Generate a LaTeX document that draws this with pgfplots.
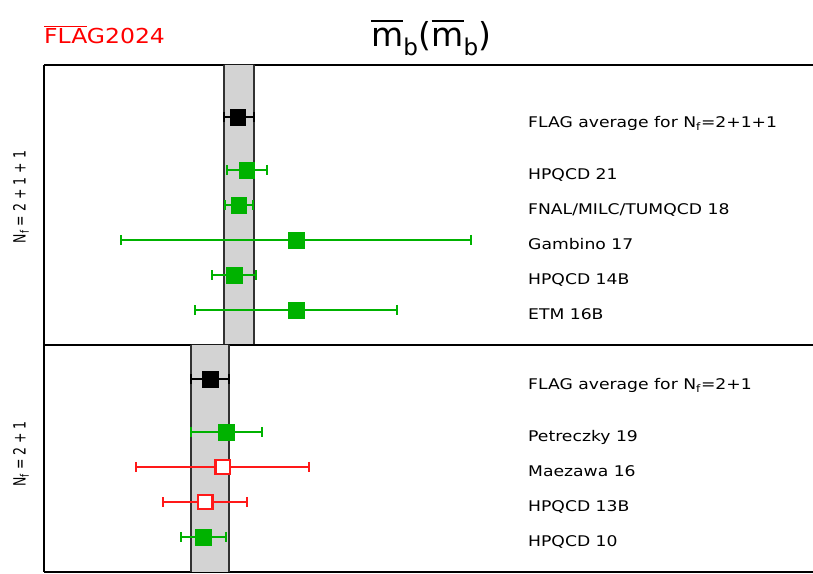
\documentclass[border=0pt]{standalone}
\usepackage{graphicx}
\usepackage{pgfplots}
\pgfplotsset{compat=1.18}
\usepackage{fontspec}
\setmainfont{DejaVu Sans}
\definecolor{fgreen}{RGB}{0,178,0}
\definecolor{fred}{RGB}{255,25,25}
\definecolor{bandfill}{RGB}{211,211,211}
\definecolor{bandedge}{RGB}{50,50,50}
\newcommand\lab[1]{\scalebox{1.17}[1]{\fontsize{14.7bp}{17bp}\selectfont #1}}
\newlength\ovw
\newcommand\ovl[3]{\settowidth\ovw{#1}\rlap{\raisebox{#2}{\rule{\ovw}{#3}}}#1}
\tikzset{lbl/.style={anchor=base west, inner sep=0pt}}
\pgfplotsset{
  panel/.style={scale only axis, width=769bp, xmin=4.0112, xmax=4.7726, ymin=0,
    axis x line=box, axis y line=left, axis line style={-, line width=1.5bp, black},
    xtick=\empty, ytick=\empty},
  res/.style={only marks, mark=square*, mark size=7.8bp, line width=2bp,
    error bars/x dir=both, error bars/x explicit,
    error bars/error mark=|,
    error bars/error bar style={line width=2bp},
    error bars/error mark options={line width=2bp, mark size=5bp}},
  band/.style={fill=bandfill, draw=none, forget plot},
  bedge/.style={bandedge, line width=2bp, forget plot},
}
\begin{document}
\begin{tikzpicture}[x=1bp,y=1bp]
\useasboundingbox (0,0) rectangle (813,574);
% ---------- upper panel Nf=2+1+1 ----------
\begin{axis}[panel, at={(44bp,229bp)}, anchor=south west, height=280bp, ymax=8]
\addplot[band] coordinates {(4.1897,0) (4.2195,0) (4.2195,8) (4.1897,8)} \closedcycle;
\addplot[bedge] coordinates {(4.1897,0) (4.1897,8)};
\addplot[bedge] coordinates {(4.2195,0) (4.2195,8)};
\addplot[res, color=black, mark options={fill=black, draw=black, line width=0.5bp}] coordinates {
  (4.2030,6.5) += (0.0165,0) -= (0.0133,0)};
\addplot[res, color=fgreen, mark options={fill=fgreen, draw=fgreen, line width=0.5bp}] coordinates {
  (4.2119,5) +- (0.0200,0)
  (4.2040,4) +- (0.0137,0)
  (4.2607,3) +- (0.1728,0)
  (4.1993,2) +- (0.0219,0)
  (4.2607,1) +- (0.0997,0)};
\node[lbl] at (axis cs:4.4904,6.2143) {\lab{FLAG average for N\textsubscript{f}=2+1+1}};
\node[lbl] at (axis cs:4.4904,4.7143) {\lab{HPQCD 21}};
\node[lbl] at (axis cs:4.4904,3.7143) {\lab{FNAL/MILC/TUMQCD 18}};
\node[lbl] at (axis cs:4.4904,2.7143) {\lab{Gambino 17}};
\node[lbl] at (axis cs:4.4904,1.7143) {\lab{HPQCD 14B}};
\node[lbl] at (axis cs:4.4904,0.7143) {\lab{ETM 16B}};
\end{axis}
% ---------- lower panel Nf=2+1 ----------
\begin{axis}[panel, at={(44bp,2bp)}, anchor=south west, height=227bp, ymax=6.4857]
\addplot[band] coordinates {(4.1565,0) (4.1947,0) (4.1947,6.4857) (4.1565,6.4857)} \closedcycle;
\addplot[bedge] coordinates {(4.1565,0) (4.1565,6.4857)};
\addplot[bedge] coordinates {(4.1947,0) (4.1947,6.4857)};
\addplot[res, color=black, mark options={fill=black, draw=black, line width=0.5bp}] coordinates {
  (4.1756,5.5) +- (0.0191,0)};
\addplot[res, color=fgreen, mark options={fill=fgreen, draw=fgreen, line width=0.5bp}] coordinates {
  (4.1917,4) +- (0.0353,0)
  (4.1686,1) += (0.0225,0) -= (0.0218,0)};
\addplot[res, color=fred, mark=square*, mark size=7.2bp, mark options={fill=white, draw=fred, line width=2.4bp}] coordinates {
  (4.1880,3) +- (0.0857,0)
  (4.1708,2) +- (0.0415,0)};
\node[lbl] at (axis cs:4.4904,5.2143) {\lab{FLAG average for N\textsubscript{f}=2+1}};
\node[lbl] at (axis cs:4.4904,3.7143) {\lab{Petreczky 19}};
\node[lbl] at (axis cs:4.4904,2.7143) {\lab{Maezawa 16}};
\node[lbl] at (axis cs:4.4904,1.7143) {\lab{HPQCD 13B}};
\node[lbl] at (axis cs:4.4904,0.7143) {\lab{HPQCD 10}};
\end{axis}
% ---------- titles ----------
\node[rotate=90] at (21,377) {\scalebox{1}[1.35]{\fontsize{12.5bp}{15bp}\selectfont N\textsubscript{f} = 2 + 1 + 1}};
\node[rotate=90] at (21,120) {\scalebox{1}[1.35]{\fontsize{12.5bp}{15bp}\selectfont N\textsubscript{f} = 2 + 1}};
\node at (431.5,536) {\fontsize{33bp}{37bp}\selectfont \ovl{m}{24bp}{2bp}\textsubscript{b}(\ovl{m}{24bp}{2bp}\textsubscript{b})};
\node[anchor=base west, inner sep=0pt, text=red] at (44,530.7) {\scalebox{1.14}[1]{\fontsize{20.6bp}{24bp}\selectfont \ovl{FLA}{16bp}{1.3bp}G2024}};
\end{tikzpicture}
\end{document}
